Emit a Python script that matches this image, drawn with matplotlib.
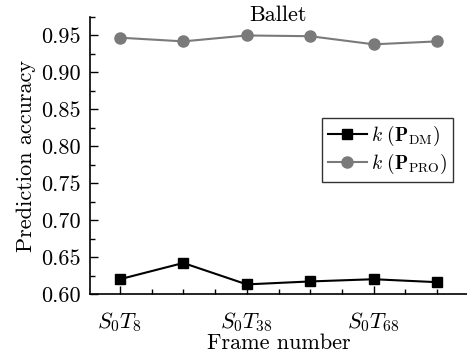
import matplotlib
matplotlib.use("Agg")
import matplotlib.pyplot as plt
from matplotlib.ticker import MultipleLocator

plt.rcParams['font.family'] = ['cmr10']
plt.rcParams['mathtext.fontset'] = 'cm'
plt.rcParams['axes.formatter.use_mathtext'] = True

positions = [0, 1, 2, 3, 4, 5]
tick_pos = [0, 2, 4]
tick_labels = [r'$S_0T_8$', r'$S_0T_{38}$', r'$S_0T_{68}$']
k_dm = [0.620, 0.642, 0.613, 0.617, 0.620, 0.616]
k_pro = [0.947, 0.942, 0.950, 0.949, 0.938, 0.942]

fig = plt.figure(figsize=(4.67, 3.54), dpi=100)
ax = fig.add_axes([90/467, 1-294/354, 1-90/467, (294-17)/354])

ax.plot(positions, k_dm, color='black', marker='s', markersize=7, lw=1.5,
        label=r'$k\ (\mathbf{P}_{\rm DM})$')
ax.plot(positions, k_pro, color='#7a7a7a', marker='o', markersize=8, lw=1.5,
        label=r'$k\ (\mathbf{P}_{\rm PRO})$')

ax.set_xlim(-0.47, 5.47)
ax.set_ylim(0.60, 0.975)
ax.set_xticks(tick_pos)
ax.set_xticklabels(tick_labels, fontsize=16)
ax.xaxis.set_minor_locator(MultipleLocator(0.5))
ax.yaxis.set_minor_locator(MultipleLocator(0.025))
ax.set_yticks([0.60, 0.65, 0.70, 0.75, 0.80, 0.85, 0.90, 0.95])
ax.set_yticklabels(['0.60', '0.65', '0.70', '0.75', '0.80', '0.85', '0.90', '0.95'], fontsize=16)

ax.tick_params(axis='both', which='major', direction='in', length=6, width=1)
ax.tick_params(axis='both', which='minor', direction='in', length=3.5, width=1)
ax.tick_params(axis='x', which='major', pad=12)
ax.tick_params(axis='y', which='major', pad=7)

for s in ['top', 'right']:
    ax.spines[s].set_visible(False)
for s in ['left', 'bottom']:
    ax.spines[s].set_linewidth(1.2)

ax.text(0.5, (294-15)/277, 'Ballet', transform=ax.transAxes, ha='center', va='center',
        fontsize=16)
ax.set_xlabel('Frame number', fontsize=16, labelpad=-1)
ax.set_ylabel('Prediction accuracy', fontsize=16, labelpad=3)

leg = ax.legend(loc='upper right', bbox_to_anchor=((453-90)/(467-90), 1 - (118-17)/277),
                bbox_transform=ax.transAxes,
                fontsize=14, frameon=True, fancybox=False, edgecolor='black',
                handlelength=2.0, handletextpad=0.2, borderpad=0.3, labelspacing=0.2,
                borderaxespad=0)
leg.get_frame().set_linewidth(1.0)

fig.savefig('out.png', dpi=100)
